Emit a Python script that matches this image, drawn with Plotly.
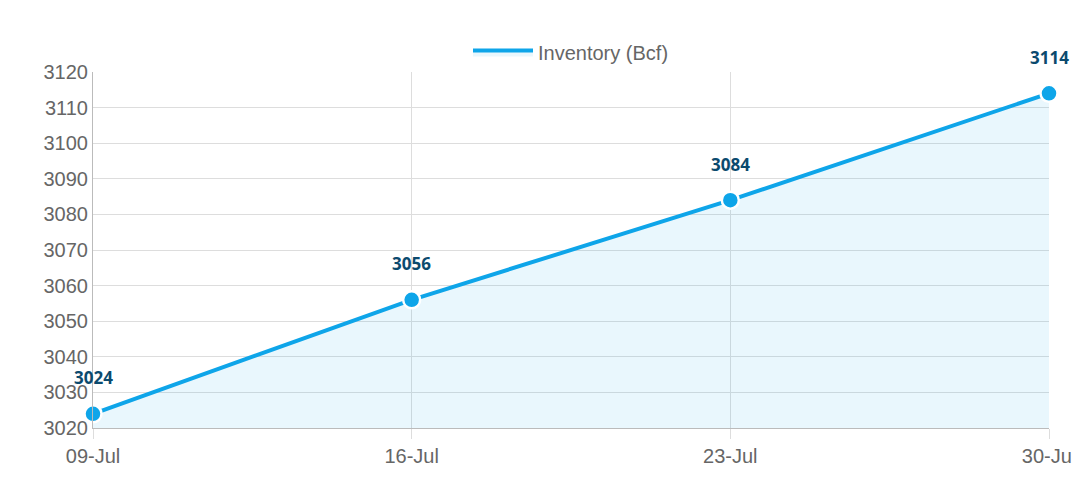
import plotly.graph_objects as go

dates = ["09-Jul", "16-Jul", "23-Jul", "30-Jul"]
inventory = [3024, 3056, 3084, 3114]
y_ticks = list(range(3020, 3121, 10))

blue = "rgb(14,165,233)"
xs = list(range(len(dates)))
fig = go.Figure()
fig.add_trace(go.Scatter(
    x=xs, y=inventory, name="Inventory (Bcf)", showlegend=False,
    mode="lines+markers", fill="tozeroy", fillcolor="rgba(14,165,233,0.09)",
    line=dict(color=blue, width=4),
    marker=dict(size=17, color=blue, line=dict(color="white", width=2.5)),
    cliponaxis=False,
))
# legend-only entry with a filled box symbol
fig.add_trace(go.Scatter(
    x=[None], y=[None], name="Inventory (Bcf)", mode="lines", fill="toself",
    fillcolor="rgba(14,165,233,0.09)", line=dict(color=blue, width=4),
))
for x, v in zip(xs, inventory):
    fig.add_annotation(x=x, y=v, text=f"<b>{v}</b>", showarrow=False, yshift=36,
                       font=dict(family="Open Sans", size=17, color="#0b4a6e"))
fig.update_layout(
    width=1080, height=480, margin=dict(l=85, r=39, t=64, b=60, autoexpand=False),
    paper_bgcolor="white", plot_bgcolor="white",
    font=dict(family="Liberation Sans", size=20, color="#666"),
    showlegend=True,
    legend=dict(orientation="h", x=0.5, xanchor="center", y=1.0, yanchor="bottom",
                font=dict(size=20, color="#666"), itemwidth=60),
    xaxis=dict(tickmode="array", tickvals=xs, ticktext=dates, automargin=False,
               range=[0, 3], showgrid=True, gridcolor="#ddd",
               ticks="outside", ticklen=10, tickcolor="#ddd",
               showline=True, linecolor="#bbb", zeroline=False),
    yaxis=dict(range=[3020, 3120], tickvals=y_ticks, showgrid=True, gridcolor="#ddd",
               showline=True, linecolor="#bbb", zeroline=False, automargin=False,
               ticks="outside", ticklen=0),
)
fig.write_html("out.html")
